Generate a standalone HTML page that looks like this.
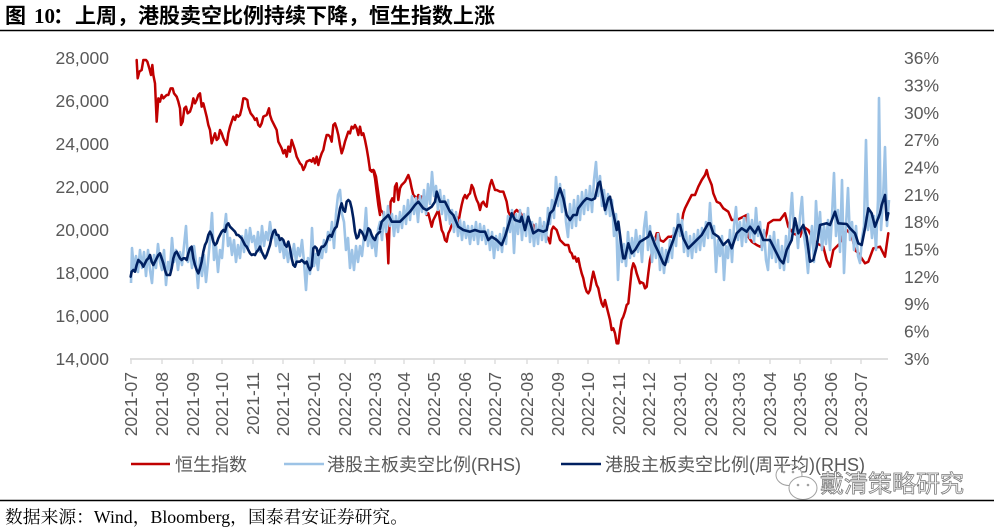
<!DOCTYPE html>
<html><head><meta charset="utf-8">
<style>
html,body{margin:0;padding:0;background:#fff;}
svg{display:block;}
.ax{font-family:"Liberation Sans","Noto Sans CJK SC",sans-serif;font-size:17.5px;fill:#595959;}
.lg{font-family:"Liberation Sans","Noto Sans CJK SC",sans-serif;font-size:18px;fill:#595959;}
</style></head>
<body>
<svg width="994" height="528" viewBox="0 0 994 528" xmlns="http://www.w3.org/2000/svg">
<rect width="994" height="528" fill="#fff"/>
<!-- title -->
<text y="23" font-size="21" font-weight="bold" fill="#000" font-family="'Liberation Serif','Noto Sans CJK SC',sans-serif">
<tspan x="5" font-family="'Noto Sans CJK SC',sans-serif">图</tspan><tspan x="34">10</tspan><tspan x="53" font-family="'Noto Sans CJK SC',sans-serif">：</tspan><tspan x="75" font-family="'Noto Sans CJK SC',sans-serif">上周，港股卖空比例持续下降，恒生指数上涨</tspan>
</text>
<line x1="0" y1="30.5" x2="994" y2="30.5" stroke="#000" stroke-width="1.5"/>

<!-- left axis labels -->
<g class="ax" text-anchor="end">
<text x="109" y="64">28,000</text>
<text x="109" y="107">26,000</text>
<text x="109" y="150">24,000</text>
<text x="109" y="193">22,000</text>
<text x="109" y="236">20,000</text>
<text x="109" y="279">18,000</text>
<text x="109" y="322">16,000</text>
<text x="109" y="365">14,000</text>
</g>
<!-- right axis labels -->
<g class="ax">
<text x="904" y="64">36%</text>
<text x="904" y="91.4">33%</text>
<text x="904" y="118.8">30%</text>
<text x="904" y="146">27%</text>
<text x="904" y="173.5">24%</text>
<text x="904" y="200.8">21%</text>
<text x="904" y="228">18%</text>
<text x="904" y="255.6">15%</text>
<text x="904" y="283">12%</text>
<text x="904" y="310">9%</text>
<text x="904" y="337.6">6%</text>
<text x="904" y="365">3%</text>
</g>

<!-- x axis -->
<line x1="130" y1="359" x2="888" y2="359" stroke="#D9D9D9" stroke-width="1.8"/>
<g stroke="#D9D9D9" stroke-width="1.3">
<line x1="131" y1="359" x2="131" y2="364"/><line x1="162" y1="359" x2="162" y2="364"/><line x1="193" y1="359" x2="193" y2="364"/><line x1="222" y1="359" x2="222" y2="364"/><line x1="253" y1="359" x2="253" y2="364"/><line x1="283" y1="359" x2="283" y2="364"/><line x1="314" y1="359" x2="314" y2="364"/><line x1="345" y1="359" x2="345" y2="364"/><line x1="375" y1="359" x2="375" y2="364"/><line x1="404" y1="359" x2="404" y2="364"/><line x1="434" y1="359" x2="434" y2="364"/><line x1="465" y1="359" x2="465" y2="364"/><line x1="495" y1="359" x2="495" y2="364"/><line x1="527" y1="359" x2="527" y2="364"/><line x1="558" y1="359" x2="558" y2="364"/><line x1="588" y1="359" x2="588" y2="364"/><line x1="619" y1="359" x2="619" y2="364"/><line x1="649" y1="359" x2="649" y2="364"/><line x1="680" y1="359" x2="680" y2="364"/><line x1="711" y1="359" x2="711" y2="364"/><line x1="739" y1="359" x2="739" y2="364"/><line x1="770" y1="359" x2="770" y2="364"/><line x1="800" y1="359" x2="800" y2="364"/><line x1="831" y1="359" x2="831" y2="364"/><line x1="861" y1="359" x2="861" y2="364"/>
</g>
<g class="ax" text-anchor="end">
<text transform="translate(137,372) rotate(-90)">2021-07</text>
<text transform="translate(168,372) rotate(-90)">2021-08</text>
<text transform="translate(199,372) rotate(-90)">2021-09</text>
<text transform="translate(228,372) rotate(-90)">2021-10</text>
<text transform="translate(259,372) rotate(-90)">2021-11</text>
<text transform="translate(289,372) rotate(-90)">2021-12</text>
<text transform="translate(320,372) rotate(-90)">2022-01</text>
<text transform="translate(351,372) rotate(-90)">2022-02</text>
<text transform="translate(381,372) rotate(-90)">2022-03</text>
<text transform="translate(410,372) rotate(-90)">2022-04</text>
<text transform="translate(440,372) rotate(-90)">2022-05</text>
<text transform="translate(471,372) rotate(-90)">2022-06</text>
<text transform="translate(501,372) rotate(-90)">2022-07</text>
<text transform="translate(533,372) rotate(-90)">2022-08</text>
<text transform="translate(564,372) rotate(-90)">2022-09</text>
<text transform="translate(594,372) rotate(-90)">2022-10</text>
<text transform="translate(625,372) rotate(-90)">2022-11</text>
<text transform="translate(655,372) rotate(-90)">2022-12</text>
<text transform="translate(686,372) rotate(-90)">2023-01</text>
<text transform="translate(717,372) rotate(-90)">2023-02</text>
<text transform="translate(745,372) rotate(-90)">2023-03</text>
<text transform="translate(776,372) rotate(-90)">2023-04</text>
<text transform="translate(806,372) rotate(-90)">2023-05</text>
<text transform="translate(837,372) rotate(-90)">2023-06</text>
<text transform="translate(867,372) rotate(-90)">2023-07</text>
</g>

<!-- red series -->
<g fill="none" stroke="#C00000" stroke-width="2.5" stroke-linejoin="round" stroke-linecap="round">
<polyline vector-effect="non-scaling-stroke" transform="translate(120,45) scale(0.33333)" points="50,45 53,100 58,80 65,75 70,45 78,45 82,50 88,70 93,90 97,60 100,90 105,115 110,230 115,160 120,170 125,150 130,160 135,155 140,150 145,150 152,130 158,130 162,145 170,155 175,170 180,190 183,240 188,230 193,190 198,185 203,205 210,200 215,185 220,160 225,175 230,165 235,150 240,145 245,185 250,175 255,195 260,215 265,240 270,255 275,295 280,280 285,265 290,285 295,280 300,255 305,265 310,280 315,290 320,300 325,265 330,245 335,230 340,215 345,225 350,210 355,215 360,210 365,190 370,160 375,160 382,165 385,185 392,205 400,215 405,225 410,220 415,240 420,245 425,235 430,215 440,210 447,190 450,210 455,225 460,235 465,245 470,255 475,290 480,300 485,310 490,325 495,315 500,335 505,305 510,320 515,285 520,300 525,315 530,335 535,345 540,355 545,360 550,375 555,365 560,350 570,345 575,350 580,340 585,355 590,335 595,360 600,340 605,325 610,315 615,290 620,270 625,270 630,275 635,290 640,240 645,235 650,250 655,270 660,300 665,325 670,310 675,290 680,275 685,260 690,265 695,245 700,250 705,240 710,250 715,270 720,245 725,270 730,265 735,285 740,310 745,340 750,375 755,380 760,375 765,400 770,440 775,480 780,510"/>
<polyline vector-effect="non-scaling-stroke" transform="translate(370,130) scale(0.33333)" points="0,120 12,122 18,140 25,190 32,240 40,250 48,290 52,330 55,400 58,300 62,215 67,205 72,215 75,170 80,160 85,210 90,175 95,165 100,160 105,155 110,145 115,135 120,150 125,175 130,195 135,200 140,210 145,195 150,200 155,200 160,215 165,225 170,255 175,250 180,270 185,290 190,270 195,260 200,250 205,240 210,270 215,300 220,310 225,330 230,335 235,310 240,300 245,285 250,280 255,270 260,260 265,280 270,250 275,225 280,205 285,195 290,205 295,195 300,190 305,165 310,175 315,195 320,210 325,220 330,240 335,220 340,215 345,225 350,230 355,190 360,165 365,150 370,165 375,180 380,180 390,185 400,185 405,200 410,215 415,245 420,255 425,250 430,265 435,245 440,240 445,245 450,245 455,255 460,270 465,280 470,275 475,280 480,290 485,280 490,285 495,300 500,305 505,300 510,295 515,290 520,300 525,300 530,320 535,325 540,340 545,300 550,290 555,295 560,300 565,315 570,330 575,335 580,340 585,345 590,345 595,345 600,365 605,370 610,385 615,380 620,395 625,385 630,410 635,430 640,445 645,470 650,485 655,490 660,480 665,450 670,425 675,445 680,465 685,475 690,500 695,520 700,530 705,510 710,530 715,550 720,570 725,600 730,595 735,610 740,640 745,640 750,600 755,570 760,560 765,545 770,525 775,520 780,470 785,420 790,400 795,410 800,430 810,460"/>
<polyline points="640,281.7 643.3,283.3 645,288.3 646.7,286.7 648.3,273.3 650,260 651.7,253.3 653.3,243.3 655,240 656.7,233.3 658.3,233.3 660,240 663.3,241.7 668.3,236.7 671.7,236.7 676.7,231.7 680,228.3 681.7,223.3 683.3,213.3 685,208.3 688.3,201.7 691.7,195 695,195 698.3,186.7 701.7,180 705,175 706.7,170 708.3,176.7 711.7,185 713.3,193.3 716.7,201.7 720,203.3 723.3,208.3 728.3,211.7 731.7,220 736.7,220 743.3,216.7 746.7,215 748.3,236.7 751.7,241.7 756.7,245 760,246.7 763.3,243.3 766.7,233.3 768.3,223.3 773.3,220 780,220 785,213.3 788.3,226.7 793.3,233.3 800,236.7 803.3,226.7 808.3,230 811.7,236.7 816.7,243.3 823.3,246.7 826.7,260 830,266.7 833.3,250 840,243.3 843.3,235 846.7,230 851.7,235 855,250 858.3,253.3 865,263.3 868.3,261.7 873.3,248.3 880,246.7 885,256.7 888.3,233.3"/>
</g>

<!-- light blue series -->
<polyline fill="none" stroke="#9DC3E6" stroke-width="2.6" stroke-linejoin="round" points="131,283 132,248 134,270 136,256 138,272 140,250 142,268 144,252 146,276 148,250 150,270 152,283 154,255 156,268 158,244 160,262 162,270 164,250 166,285 168,262 170,270 172,238 174,262 176,250 178,270 180,252 182,265 184,246 186,226 188,262 190,250 192,268 194,246 196,262 198,288 200,258 202,276 204,255 206,282 208,262 210,240 212,213 214,260 216,246 218,272 220,250 222,258 224,232 226,214 228,246 230,238 232,255 234,240 236,262 238,245 240,258 242,236 244,252 246,230 248,248 250,228 252,242 254,236 256,250 258,232 260,252 262,226 264,246 266,232 268,240 270,222 272,238 274,230 276,246 278,236 280,252 282,240 284,258 286,246 288,262 290,250 292,258 294,244 296,262 298,248 300,256 302,240 304,262 306,290 308,258 310,274 312,228 314,266 316,254 318,270 320,250 322,258 324,240 326,252 328,232 330,240 332,222 334,248 336,214 338,195 340,190 342,214 344,222 346,250 348,238 350,268 352,250 354,270 356,246 358,262 360,246 362,256 364,236 366,208 368,246 370,232 372,248 374,238 376,256 378,230 380,222 382,240 384,212 386,232 388,206 390,226 392,214 394,236 396,216 398,232 400,212 402,228 404,206 406,224 408,200 410,220 412,196 414,214 416,198 418,222 420,196 422,212 424,190 426,214 428,184 430,204 432,172 434,196 436,186 438,210 440,190 442,214 444,196 446,220 448,200 450,224 452,210 454,232 456,212 458,236 460,220 462,240 464,222 466,238 468,226 470,244 472,226 474,240 476,222 478,244 480,224 482,240 484,226 486,244 488,230 490,250 492,232 494,258 496,236 498,250 500,234 502,252 504,228 506,244 508,216 510,232 512,210 514,253 516,214 518,234 520,210 522,240 524,214 526,236 528,208 530,242 532,222 534,246 536,224 538,244 540,218 542,240 544,222 546,242 548,208 550,224 552,200 554,218 556,177 558,206 560,184 562,212 564,190 566,222 568,237 570,204 572,228 574,200 576,226 578,196 580,220 582,192 584,214 586,190 588,210 590,186 592,212 594,180 596,162 598,196 600,176 602,206 604,190 606,214 608,194 610,216 612,200 614,236 616,214 618,280 620,236 622,262 624,244 626,266 628,232 630,258 632,238 634,256 636,230 638,252 640,236 642,262 644,228 646,212 648,250 650,226 652,262 654,238 656,258 658,234 660,270 662,248 664,273 666,250 668,262 670,240 672,258 674,228 676,246 678,214 680,236 682,220 684,252 686,232 688,256 690,236 692,258 694,234 696,252 698,230 700,250 702,228 704,246 706,222 708,238 710,203 712,238 714,226 716,272 718,240 720,256 722,236 724,280 726,246 728,258 730,230 732,262 734,226 736,207 738,240 740,222 742,246 744,218 746,242 748,214 750,238 752,220 754,242 756,208 758,236 760,222 762,250 764,230 766,260 768,270 770,236 772,258 774,232 776,262 778,240 780,268 782,246 784,270 786,236 788,262 790,220 792,193 794,232 796,222 798,248 800,216 802,197 804,236 806,250 808,273 810,246 812,226 814,262 816,201 818,238 820,212 822,250 824,226 826,244 828,220 830,250 832,216 834,173 836,236 838,210 840,252 842,180 844,273 846,226 848,188 850,240 852,222 854,250 856,226 858,256 860,263 862,238 864,226 866,140 868,230 870,212 872,238 874,216 876,250 878,200 879,98 881,230 883,200 885,147 887,226 889,200"/>

<!-- dark blue series -->
<g fill="none" stroke="#002060" stroke-width="2.6" stroke-linejoin="round" stroke-linecap="round">
<polyline vector-effect="non-scaling-stroke" transform="translate(120,45) scale(0.33333)" points="32,695 35,680 40,675 45,680 50,660 55,645 60,650 65,655 70,665 75,655 80,645 85,640 90,630 95,650 100,660 105,650 110,640 115,630 120,625 125,640 130,655 135,675 140,690 145,690 150,690 155,670 160,640 165,625 170,620 175,630 180,640 185,645 190,640 195,640 200,645 205,625 210,610 215,605 220,640 225,660 230,675 235,685 240,670 245,650 250,620 255,600 260,590 265,570 270,560 275,570 280,590 285,600 290,595 295,580 300,570 305,560 310,555 315,560 320,540 325,535 330,545 335,550 340,555 345,560 350,570 355,570 360,575 365,580 370,590 375,600 380,605 385,615 390,625 395,630 400,628 405,630 410,620 415,615 420,605 425,620 430,630 435,640 440,630 445,615 450,600 455,575 460,560 465,555 470,570 475,570 480,585 485,580 490,585 495,600 500,605 505,590 510,610 515,640 520,660 525,665 530,650 535,650 540,650 545,645 550,650 555,655 560,650 565,665 570,675 575,665 580,610 585,605 590,610 595,630 600,615 605,605 610,605 615,600 620,590 625,575 630,570 635,575 640,560 645,550 650,545 655,520 660,490 665,475 670,495 675,500 680,470 685,465 690,470 695,490 700,520 705,560 710,580 715,575 720,555 725,560 730,570 735,585 740,570 745,550 750,555 755,570 760,580 765,585 770,570 775,565 780,560"/>
<polyline points="380,229 381.7,221.7 385,218.3 388.3,215 391.7,221.7 395,221.7 400,221.7 405,216.7 410,211.7 415,205 418.3,201.7 423.3,208.3 426.7,210 431.7,206.7 435,201.7 436.7,191.7 440,201.7 445,201.7 450,211.7 453.3,215 458.3,226.7 463.3,230 470,231.7 475,230 480,231.7 485,231.7 488.3,240 491.7,236.7 496.7,240 501.7,245 505,236.7 510,220 511.7,213.3 515,220 520,221.7 521.7,216.7 525,230 528.3,216.7 533.3,233.3 538.3,230 543.3,231.7 546.7,230 550,213.3 553.3,210 558.3,193.3 560,188.3 563.3,198.3 566.7,215 570,220 573.3,215 576.7,215 578.3,208.3 583.3,201.7 586.7,198.3 591.7,200 595,198.3 598.3,183.3 600,181.7 603.3,200 605,210 608.3,198.3 610,196.7 613.3,213.3 616.7,230 618.3,221.7 621.7,248.3 623.3,258.3 625,258.3 628.3,243.3 631.7,253.3 635,250 640,241.7 643,240 648.3,236.7 650,231.7 655,245 658.3,251.7 663.3,263.3 665,265 668.3,253.3 673.3,240 678.3,225 680,225 683.3,238.3 688.3,248.3 695,241.7 701.7,235 708.3,223.3 710,223.3 713.3,233.3 718.3,236.7 723.3,245 728.3,240 731.7,248.3 736.7,233.3 741.7,228.3 746.7,231.7 750,226.7 755,233.3 758.3,226.7 763.3,240 770,240 776.7,253.3 780,260 783.3,263.3 786.7,250 791.7,240 795,218.3 798.3,233.3 803.3,225 806.7,236.7 810,261.7 813.3,260 816.7,246.7 820,225 826.7,223.3 830,225 835,211.7 838.3,223.3 846.7,224 850,228.3 855,233.3 858.3,243.3 861.7,245 865,228.3 868.3,208.3 871.7,213.3 875,226.7 880,213.3 881.7,205 885,195 886.7,220 888.3,213.3"/>
</g>

<!-- legend -->
<line x1="131" y1="464" x2="170" y2="464" stroke="#C00000" stroke-width="2.6"/>
<text class="lg" x="175" y="471">恒生指数</text>
<line x1="284" y1="464" x2="324" y2="464" stroke="#9DC3E6" stroke-width="2.6"/>
<text class="lg" x="327" y="471">港股主板卖空比例(RHS)</text>
<line x1="561" y1="464" x2="601" y2="464" stroke="#002060" stroke-width="2.6"/>
<text class="lg" x="605" y="471">港股主板卖空比例(周平均)(RHS)</text>

<!-- watermark -->
<g fill="none" stroke="#a0a0a0" stroke-width="1">
<ellipse cx="789" cy="475" rx="13" ry="10.5"/>
</g>
<g fill="#fff" stroke="#a0a0a0" stroke-width="1">
<ellipse cx="803" cy="488" rx="14" ry="11.5"/>
</g>
<g fill="#a0a0a0">
<circle cx="784" cy="472" r="1.3"/><circle cx="793" cy="472" r="1.3"/>
<circle cx="798" cy="485" r="1.3"/><circle cx="808" cy="485" r="1.3"/>
</g>
<text x="820" y="492" font-size="24" fill="#fff" stroke="#7a7a7a" stroke-width="0.8" font-family="'Noto Sans CJK SC',sans-serif">戴清策略研究</text>

<line x1="0" y1="500.5" x2="994" y2="500.5" stroke="#000" stroke-width="1.5"/>
<text x="5" y="523" font-size="17.8" fill="#000" font-family="'Liberation Serif','Noto Serif CJK SC',serif">数据来源：Wind，Bloomberg，国泰君安证券研究。</text>
</svg>
</body></html>
